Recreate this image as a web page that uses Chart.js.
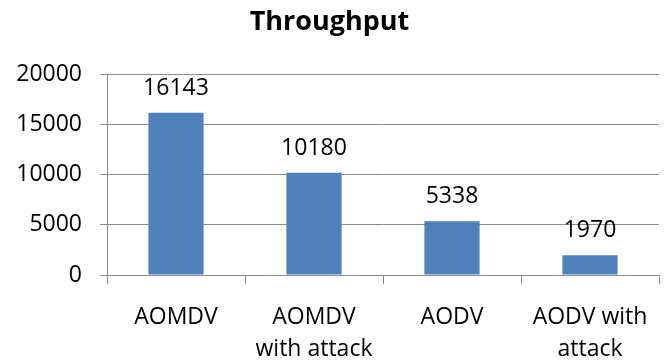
<!DOCTYPE html>
<html>
<head>
<meta charset="utf-8">
<script src="https://cdn.jsdelivr.net/npm/chart.js@4"></script>
<style>
  html, body { margin: 0; padding: 0; background: #fff; }
  #wrap { width: 667px; height: 364px; }
</style>
</head>
<body>
<div id="wrap"><canvas id="myChart"></canvas></div>
<script>
// data
const categories = [['AOMDV'], ['AOMDV', 'with attack'], ['AODV'], ['AODV with', 'attack']];
const throughput = [16143, 10180, 5338, 1970];
const yTicks = [0, 5000, 10000, 15000, 20000];

document.addEventListener('DOMContentLoaded', function() {
    const ctx = document.getElementById('myChart');
    if (!ctx) return;

    const warnaBatang = '#4F81BD';
    const warnaGaris = '#8c8c8c';
    const fontUtama = "'Open Sans', sans-serif";

    // value labels above each bar
    const labelNilai = {
        id: 'labelNilai',
        afterDatasetsDraw(chart) {
            const c = chart.ctx;
            const meta = chart.getDatasetMeta(0);
            c.save();
            c.font = '23px ' + fontUtama;
            c.fillStyle = '#000';
            c.textAlign = 'center';
            c.textBaseline = 'alphabetic';
            meta.data.forEach(function(bar, i) {
                c.fillText(String(throughput[i]), bar.x, bar.y - 18);
            });
            c.restore();
        }
    };

    new Chart(ctx, {
        type: 'bar',
        data: {
            labels: categories,
            datasets: [{
                label: 'Throughput',
                data: throughput,
                backgroundColor: warnaBatang,
                borderWidth: 0,
                barPercentage: 0.4,
                categoryPercentage: 1.0
            }]
        },
        options: {
            responsive: true,
            maintainAspectRatio: false,
            animation: false,
            layout: { padding: { left: 0, right: 8, top: 0, bottom: 0 } },
            scales: {
                x: {
                    afterFit: function(scale) { scale.height = 89; },
                    grid: {
                        display: true,
                        drawOnChartArea: false,
                        offset: true,
                        tickLength: 9,
                        color: warnaGaris
                    },
                    border: { color: warnaGaris },
                    ticks: {
                        color: '#000',
                        font: { family: fontUtama, size: 23, lineHeight: 1.4 },
                        maxRotation: 0,
                        autoSkip: false,
                        padding: 17
                    }
                },
                y: {
                    min: 0,
                    max: 20000,
                    afterFit: function(scale) { scale.width = 107; },
                    afterBuildTicks: function(scale) {
                        scale.ticks = yTicks.map(function(v) { return { value: v }; });
                    },
                    grid: {
                        color: warnaGaris,
                        tickLength: 7
                    },
                    border: { color: warnaGaris },
                    ticks: {
                        color: '#000',
                        font: { family: fontUtama, size: 23 },
                        padding: 18,
                        callback: function(v) { return String(v); }
                    }
                }
            },
            plugins: {
                legend: { display: false },
                tooltip: { enabled: false },
                title: {
                    display: true,
                    text: 'Throughput',
                    color: '#000',
                    font: { family: fontUtama, size: 27, weight: 'bold', lineHeight: 1.2 },
                    padding: { top: 6, bottom: 35.6 }
                }
            }
        },
        plugins: [labelNilai]
    });
});
</script>
</body>
</html>
